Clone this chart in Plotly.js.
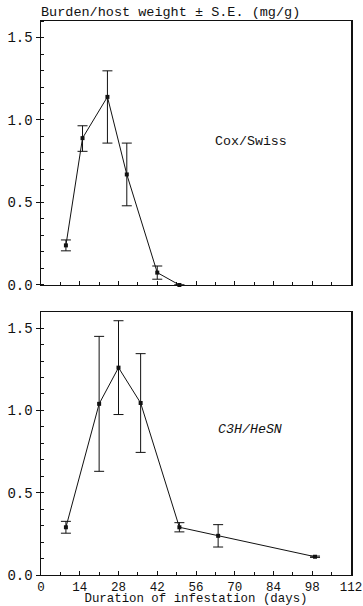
<!DOCTYPE html>
<html>
<head>
<meta charset="utf-8">
<script src="https://cdn.plot.ly/plotly-3.0.1.min.js"></script>
<style>html,body{margin:0;padding:0;background:#fff;}#chart{width:363px;height:606px;}</style>
</head>
<body>
<div id="chart"></div>
<script>
// Cox/Swiss (top panel)
var coxDays = [9, 15, 24, 31, 42, 50];
var coxBurden = [0.24, 0.89, 1.14, 0.67, 0.075, 0.0];
var coxSEplus = [0.033, 0.075, 0.158, 0.19, 0.04, 0];
var coxSEminus = [0.033, 0.08, 0.28, 0.19, 0.04, 0];

// C3H/HeSN (bottom panel)
var c3hDays = [9, 21, 28, 36, 50, 64, 99];
var c3hBurden = [0.29, 1.04, 1.26, 1.045, 0.29, 0.238, 0.111];
var c3hSE = [0.036, 0.41, 0.285, 0.30, 0.028, 0.068, 0.004];

var xTickVals = [0, 14, 28, 42, 56, 70, 84, 98, 112];
var yTickVals = [0, 0.5, 1.0, 1.5];

var typeface = "Liberation Mono";
var ink = "#111";

function trace(x, y, plus, minus, xa, ya) {
  return {
    x: x, y: y, xaxis: xa, yaxis: ya, type: "scatter", mode: "lines+markers",
    line: {color: ink, width: 1},
    marker: {symbol: "square", size: 4, color: ink},
    error_y: {type: "data", symmetric: false, array: plus, arrayminus: minus,
              color: ink, thickness: 1, width: 5},
    showlegend: false, cliponaxis: false
  };
}

var data = [
  trace(coxDays, coxBurden, coxSEplus, coxSEminus, "x", "y"),
  trace(c3hDays, c3hBurden, c3hSE, c3hSE, "x2", "y2")
];

function xax(showLabels, anchor) {
  var a = {
    range: [0, 112], tickvals: xTickVals, showticklabels: showLabels,
    ticks: "inside", ticklen: 4, tickcolor: ink, tickwidth: 1,
    minor: {dtick: 7, tick0: 0, ticks: "inside", ticklen: 3, tickcolor: ink, showgrid: false},
    showline: true, linecolor: ink, linewidth: 1, mirror: true,
    showgrid: false, zeroline: false, anchor: anchor,
    ticklabeloverflow: "allow", automargin: false,
    tickfont: {family: typeface, size: 12.5, color: ink}
  };
  if (showLabels) {
    a.title = {text: "Duration of infestation (days)", standoff: 0,
               font: {family: typeface, size: 12.4, color: ink}};
  }
  return a;
}
function yax(domain, anchor) {
  return {
    range: [0, 1.6], tickvals: yTickVals, tickformat: ".1f",
    ticks: "outside", ticklen: 4, tickcolor: ink, tickwidth: 1,
    minor: {dtick: 0.1, tick0: 0, ticks: "inside", ticklen: 3, tickcolor: ink, showgrid: false},
    showline: true, linecolor: ink, linewidth: 1.5, mirror: true,
    showgrid: false, zeroline: false, domain: domain, anchor: anchor,
    tickfont: {family: typeface, size: 14, color: ink}
  };
}

var layout = {
  width: 363, height: 606,
  margin: {l: 41, r: 12, t: 21, b: 31},
  paper_bgcolor: "#fff", plot_bgcolor: "#fff",
  xaxis: xax(false, "y"),
  yaxis: yax([0.5235, 1], "x"),
  xaxis2: xax(true, "y2"),
  yaxis2: yax([0, 0.4753], "x2"),
  annotations: [
    {text: "Burden/host weight \u00b1 S.E. (mg/g)", xref: "paper", yref: "paper",
     x: 0, y: 1, xanchor: "left", yanchor: "bottom", xshift: -2, yshift: -1, showarrow: false,
     font: {family: typeface, size: 13.5, color: ink}},
    {text: "Cox/Swiss", xref: "x", yref: "y", x: 76, y: 0.87, showarrow: false,
     font: {family: typeface, size: 13.3, color: ink}},
    {text: "<i>C3H/HeSN</i>", xref: "x2", yref: "y2", x: 75.5, y: 0.884, showarrow: false,
     font: {family: typeface, size: 13.3, color: ink}}
  ]
};

Plotly.newPlot("chart", data, layout, {displayModeBar: false, staticPlot: true});
</script>
</body>
</html>
